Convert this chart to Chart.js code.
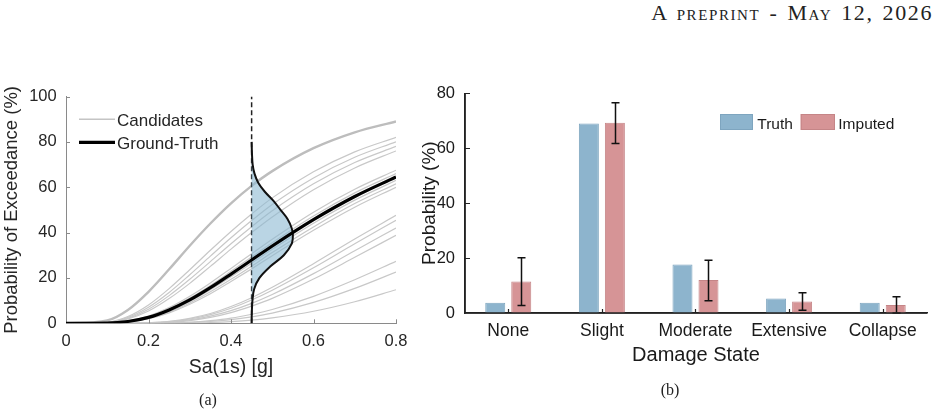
<!DOCTYPE html>
<html>
<head>
<meta charset="utf-8">
<script src="https://cdn.jsdelivr.net/npm/chart.js@4.4.1/dist/chart.umd.min.js"></script>
<style>
  body { margin: 0; background: #fff; }
  #page { position: relative; width: 940px; height: 415px; overflow: hidden; }
  #hdr { position: absolute; right: 7px; top: 1.6px; font-family: "Liberation Serif", "Times New Roman", serif;
         font-variant: small-caps; font-size: 22px; letter-spacing: 1.6px; word-spacing: 2px; line-height: 1;
         color: #222; white-space: nowrap; }
  .cap { position: absolute; font-family: "Liberation Serif", "Times New Roman", serif; font-size: 16px;
         line-height: 1; color: #222; transform: translateX(-50%); }
  #chartA { position: absolute; left: 0; top: 0; }
  #chartB { position: absolute; left: 410px; top: 0; }
</style>
</head>
<body>
<div id="page">
  <div id="hdr">A preprint - May 12, 2026</div>
  <canvas id="chartA" width="410" height="415"></canvas>
  <canvas id="chartB" width="530" height="415"></canvas>
  <div class="cap" style="left:208px; top:392px;">(a)</div>
  <div class="cap" style="left:670px; top:382px;">(b)</div>
</div>
<script>
Chart.defaults.font.family = "'Liberation Sans', Arial, Helvetica, sans-serif";
Chart.defaults.color = '#262626';
Chart.defaults.animation = false;

// ---- panel (a): fragility curves ----
const saGrid = [0, 0.1, 0.15, 0.2, 0.25, 0.3, 0.35, 0.4, 0.45, 0.5, 0.6, 0.7, 0.8];
const saTicks = [0, 0.2, 0.4, 0.6, 0.8];
const exceedTicks = [0, 20, 40, 60, 80, 100];

// candidate curves, probability of exceedance (%) read at saGrid
const cand01 = [0, 1.3, 5.9, 13.9, 23.8, 34.2, 44.0, 52.9, 60.6, 67.1, 77.2, 84.2, 89.0];
const cand02 = [0, 0.5, 3.0, 8.1, 15.3, 23.6, 32.2, 40.5, 48.2, 55.3, 66.8, 75.6, 82.0];
const cand03 = [0, 0.4, 2.6, 7.1, 13.6, 21.4, 29.6, 37.7, 45.3, 52.4, 64.1, 73.2, 80.0];
const cand04 = [0, 0.35, 2.2, 6.2, 12.2, 19.4, 27.2, 35.1, 42.6, 49.6, 61.5, 70.9, 78.0];
const cand05 = [0, 0.3, 1.9, 5.4, 10.9, 17.6, 25.1, 32.7, 40.0, 46.9, 58.9, 68.5, 76.0];
const cand06 = [0, 0.13, 1.0, 3.2, 6.9, 11.9, 17.8, 24.2, 30.7, 37.1, 49.0, 59.1, 67.5];
const cand07 = [0, 0.1, 0.9, 2.9, 6.3, 11.1, 16.7, 22.9, 29.2, 35.5, 47.3, 57.5, 66.0];
const cand08 = [0, 0.1, 0.7, 2.4, 5.4, 9.6, 14.8, 20.5, 26.5, 32.6, 44.1, 54.3, 63.0];
const cand09 = [0, 0.07, 0.6, 2.2, 5.0, 9.0, 13.9, 19.4, 25.2, 31.2, 42.5, 52.8, 61.5];
const cand10 = [0, 0.06, 0.56, 2.0, 4.6, 8.4, 13.0, 18.4, 24.0, 29.8, 41.0, 51.2, 60.0];
const cand11 = [0, 0, 0.03, 0.23, 0.85, 2.2, 4.3, 7.4, 11.3, 15.9, 26.3, 37.2, 47.6];
const cand12 = [0, 0, 0.02, 0.19, 0.73, 1.9, 3.85, 6.65, 10.3, 14.6, 24.5, 35.1, 45.4];
const cand13 = [0, 0, 0.01, 0.15, 0.57, 1.5, 3.2, 5.6, 8.8, 12.7, 21.9, 32.0, 42.0];
const cand14 = [0, 0, 0.01, 0.11, 0.45, 1.2, 2.6, 4.7, 7.6, 11.0, 19.5, 29.1, 38.8];
const cand15 = [0, 0, 0, 0.04, 0.17, 0.5, 1.2, 2.3, 4.0, 6.1, 11.9, 19.2, 27.3];
const cand16 = [0, 0, 0, 0.02, 0.1, 0.33, 0.8, 1.6, 2.85, 4.5, 9.2, 15.4, 22.6];
const cand17 = [0, 0, 0, 0, 0.03, 0.13, 0.35, 0.75, 1.4, 2.4, 5.3, 9.5, 14.8];
const candidates = [cand01, cand02, cand03, cand04, cand05, cand06, cand07, cand08, cand09,
                    cand10, cand11, cand12, cand13, cand14, cand15, cand16, cand17];
const groundTruth = [0, 0.1, 0.8, 2.6, 5.9, 10.3, 15.7, 21.7, 27.9, 34.1, 45.7, 55.9, 64.5];

// density drawn sideways at Sa = 0.45
const markSa = 0.45;
const pdfProb = [0, 5, 10, 15, 20, 25, 30, 35, 39, 42, 46, 50, 54, 58, 62, 66, 70, 75, 80];
const pdfSa = [0.45, 0.4505, 0.452, 0.456, 0.469, 0.495, 0.528, 0.547, 0.550, 0.547, 0.537,
               0.520, 0.503, 0.482, 0.466, 0.457, 0.4525, 0.4508, 0.45];

// ---- panel (b): damage states ----
const damageStates = ['None', 'Slight', 'Moderate', 'Extensive', 'Collapse'];
const truthVals = [3.7, 69.0, 17.7, 5.3, 3.7];
const imputedVals = [11.5, 69.3, 12.0, 4.2, 2.9];
const imputedLow = [2.7, 61.7, 4.5, 1.0, 0];
const imputedHigh = [20.1, 76.6, 19.2, 7.4, 5.9];
const probTicks = [0, 20, 40, 60, 80];

const onGrid = ys => saGrid.map((x, i) => ({ x: x, y: ys[i] }));

// keep tick labels from pushing the plot area around
const noPadX = s => { s.paddingLeft = 0; s.paddingRight = 0; };
const noPadY = s => { s.paddingTop = 0; s.paddingBottom = 0; };

const curveSets = candidates.map((ys, k) => ({
  data: onGrid(ys),
  borderColor: k === 0 ? '#bdbdbd' : '#c8c8c8',
  borderWidth: k === 0 ? 2.4 : 1.2,
  pointRadius: 0,
  cubicInterpolationMode: 'monotone',
  fill: false,
  order: 3
}));

const aDecor = {
  id: 'aDecor',
  afterDraw(chart) {
    const ctx = chart.ctx, xs = chart.scales.x, ys = chart.scales.y;
    ctx.save();
    ctx.strokeStyle = '#8a8a8a';
    ctx.lineWidth = 1;
    ctx.beginPath();
    saTicks.slice(1).forEach(v => {
      const px = Math.round(xs.getPixelForValue(v)) + 0.5;
      ctx.moveTo(px, ys.bottom); ctx.lineTo(px, ys.bottom - 4);
    });
    exceedTicks.slice(1).forEach(v => {
      const py = Math.round(ys.getPixelForValue(v)) + 0.5;
      ctx.moveTo(xs.left, py); ctx.lineTo(xs.left + 4, py);
    });
    ctx.stroke();
    // legend
    ctx.lineCap = 'butt';
    ctx.strokeStyle = '#c4c4c4'; ctx.lineWidth = 1.5;
    ctx.beginPath(); ctx.moveTo(79, 119.3); ctx.lineTo(115, 119.3); ctx.stroke();
    ctx.strokeStyle = '#000'; ctx.lineWidth = 3.2;
    ctx.beginPath(); ctx.moveTo(79, 142.3); ctx.lineTo(115, 142.3); ctx.stroke();
    ctx.fillStyle = '#262626';
    ctx.font = "17px 'Liberation Sans', Arial, sans-serif";
    ctx.textBaseline = 'alphabetic';
    ctx.fillText('Candidates', 117, 125.5);
    ctx.fillText('Ground-Truth', 117, 148.5);
    ctx.restore();
  }
};

new Chart(document.getElementById('chartA'), {
  type: 'line',
  data: {
    datasets: [
      { data: onGrid(groundTruth), borderColor: '#000', borderWidth: 3.2, pointRadius: 0,
        cubicInterpolationMode: 'monotone', fill: false, order: 0 },
      { data: pdfSa.map((x, i) => ({ x: x, y: pdfProb[i] })), borderColor: '#111', borderWidth: 2,
        pointRadius: 0, tension: 0.35, fill: 'shape', backgroundColor: 'rgba(140,185,210,0.6)', order: 1 },
      { data: [{ x: markSa, y: 0 }, { x: markSa, y: 100 }], borderColor: '#222', borderWidth: 1.5,
        borderDash: [5, 3], pointRadius: 0, fill: false, order: 2 },
      ...curveSets
    ]
  },
  options: {
    responsive: false,
    devicePixelRatio: 1,
    layout: { padding: { left: 0, top: 96.5, right: 14, bottom: 35.7 } },
    plugins: { legend: { display: false }, tooltip: { enabled: false } },
    scales: {
      x: {
        type: 'linear', min: 0, max: 0.8,
        afterBuildTicks: s => { s.ticks = saTicks.map(v => ({ value: v })); },
        afterFit: s => { s.height = 56; noPadX(s); },
        grid: { display: false, drawTicks: false },
        border: { display: true, color: '#8a8a8a', width: 1 },
        ticks: { padding: 8, font: { size: 16.5 }, maxRotation: 0, callback: v => String(v) },
        title: { display: true, text: 'Sa(1s) [g]', font: { size: 19.5 }, padding: 0 }
      },
      y: {
        type: 'linear', min: 0, max: 100,
        afterBuildTicks: s => { s.ticks = exceedTicks.map(v => ({ value: v })); },
        afterFit: s => { s.width = 66; noPadY(s); },
        grid: { display: false, drawTicks: false },
        border: { display: true, color: '#8a8a8a', width: 1 },
        ticks: { padding: 9.3, font: { size: 16.5 } },
        title: { display: true, text: 'Probability of Exceedance (%)', font: { size: 18.5 },
                 padding: { top: 1.3, bottom: 0 } }
      }
    }
  },
  plugins: [aDecor]
});

const bDecor = {
  id: 'bDecor',
  afterDatasetsDraw(chart) {
    const ctx = chart.ctx, ys = chart.scales.y, xs = chart.scales.x;
    const meta = chart.getDatasetMeta(1);
    ctx.save();
    ctx.strokeStyle = '#111';
    ctx.lineWidth = 1.5;
    ctx.beginPath();
    meta.data.forEach((bar, i) => {
      const x = Math.round(bar.x) + 0.5;
      const yl = ys.getPixelForValue(imputedLow[i]);
      const yh = ys.getPixelForValue(imputedHigh[i]);
      ctx.moveTo(x, yl); ctx.lineTo(x, yh);
      ctx.moveTo(x - 4, yl); ctx.lineTo(x + 4, yl);
      ctx.moveTo(x - 4, yh); ctx.lineTo(x + 4, yh);
    });
    ctx.stroke();
    // axis lines and inward ticks
    ctx.strokeStyle = '#222';
    ctx.lineWidth = 1.5;
    ctx.beginPath();
    ctx.moveTo(xs.left, ys.top); ctx.lineTo(xs.left, ys.bottom); ctx.lineTo(xs.right, ys.bottom);
    ctx.stroke();
    ctx.lineWidth = 1.2;
    ctx.beginPath();
    damageStates.forEach((_, i) => {
      const px = Math.round(xs.getPixelForValue(i + 1)) + 0.5;
      ctx.moveTo(px, ys.bottom); ctx.lineTo(px, ys.bottom - 4);
    });
    probTicks.slice(1).forEach(v => {
      const py = Math.round(ys.getPixelForValue(v)) + 0.5;
      ctx.moveTo(xs.left, py); ctx.lineTo(xs.left + 5, py);
    });
    ctx.stroke();
    ctx.restore();
  },
  afterDraw(chart) {
    const ctx = chart.ctx;
    const ds = chart.data.datasets;
    const items = [[310, 33, 347.3], [390.7, 34.3, 428.3]];
    ctx.save();
    ctx.font = "15.5px 'Liberation Sans', Arial, sans-serif";
    ctx.textBaseline = 'alphabetic';
    items.forEach((it, k) => {
      ctx.fillStyle = ds[k].backgroundColor;
      ctx.fillRect(it[0], 114, it[1], 16);
      ctx.strokeStyle = ds[k].borderColor;
      ctx.lineWidth = 1;
      ctx.strokeRect(it[0] + 0.5, 114.5, it[1] - 1, 15);
      ctx.fillStyle = '#1a1a1a';
      ctx.fillText(ds[k].label, it[2], 129);
    });
    ctx.restore();
  }
};

new Chart(document.getElementById('chartB'), {
  type: 'bar',
  data: {
    datasets: [
      { label: 'Truth', data: truthVals.map((v, i) => ({ x: i + 1, y: v })),
        backgroundColor: '#8db4cd', borderColor: '#7ea5bf', borderWidth: 1,
        categoryPercentage: 0.5556, barPercentage: 0.769 },
      { label: 'Imputed', data: imputedVals.map((v, i) => ({ x: i + 1, y: v })),
        backgroundColor: '#d69496', borderColor: '#c58587', borderWidth: 1,
        categoryPercentage: 0.5556, barPercentage: 0.769 }
    ]
  },
  options: {
    responsive: false,
    devicePixelRatio: 1,
    layout: { padding: { left: 0, top: 93.3, right: 13, bottom: 48 } },
    plugins: { legend: { display: false }, tooltip: { enabled: false } },
    scales: {
      x: {
        type: 'linear', min: 0.538, max: 5.473, offset: false,
        afterBuildTicks: s => { s.ticks = damageStates.map((_, i) => ({ value: i + 1 })); },
        afterFit: s => { s.height = 54; noPadX(s); },
        grid: { display: false, drawTicks: false, offset: false },
        border: { display: true, color: '#222', width: 1.5 },
        ticks: { padding: 8, font: { size: 17.5 }, color: '#1a1a1a', autoSkip: false, maxRotation: 0,
                 callback: v => damageStates[Math.round(v) - 1] },
        title: { display: true, text: 'Damage State', font: { size: 20 }, color: '#1a1a1a', padding: 0 }
      },
      y: {
        type: 'linear', min: 0, max: 80,
        afterBuildTicks: s => { s.ticks = probTicks.map(v => ({ value: v })); },
        afterFit: s => { s.width = 55; noPadY(s); },
        grid: { display: false, drawTicks: false },
        border: { display: true, color: '#222', width: 1.5 },
        ticks: { padding: 10, font: { size: 16.5 }, color: '#1a1a1a' },
        title: { display: true, text: 'Probability (%)', font: { size: 19 }, color: '#1a1a1a',
                 padding: { top: 8, bottom: 0 } }
      }
    }
  },
  plugins: [bDecor]
});
</script>
</body>
</html>
